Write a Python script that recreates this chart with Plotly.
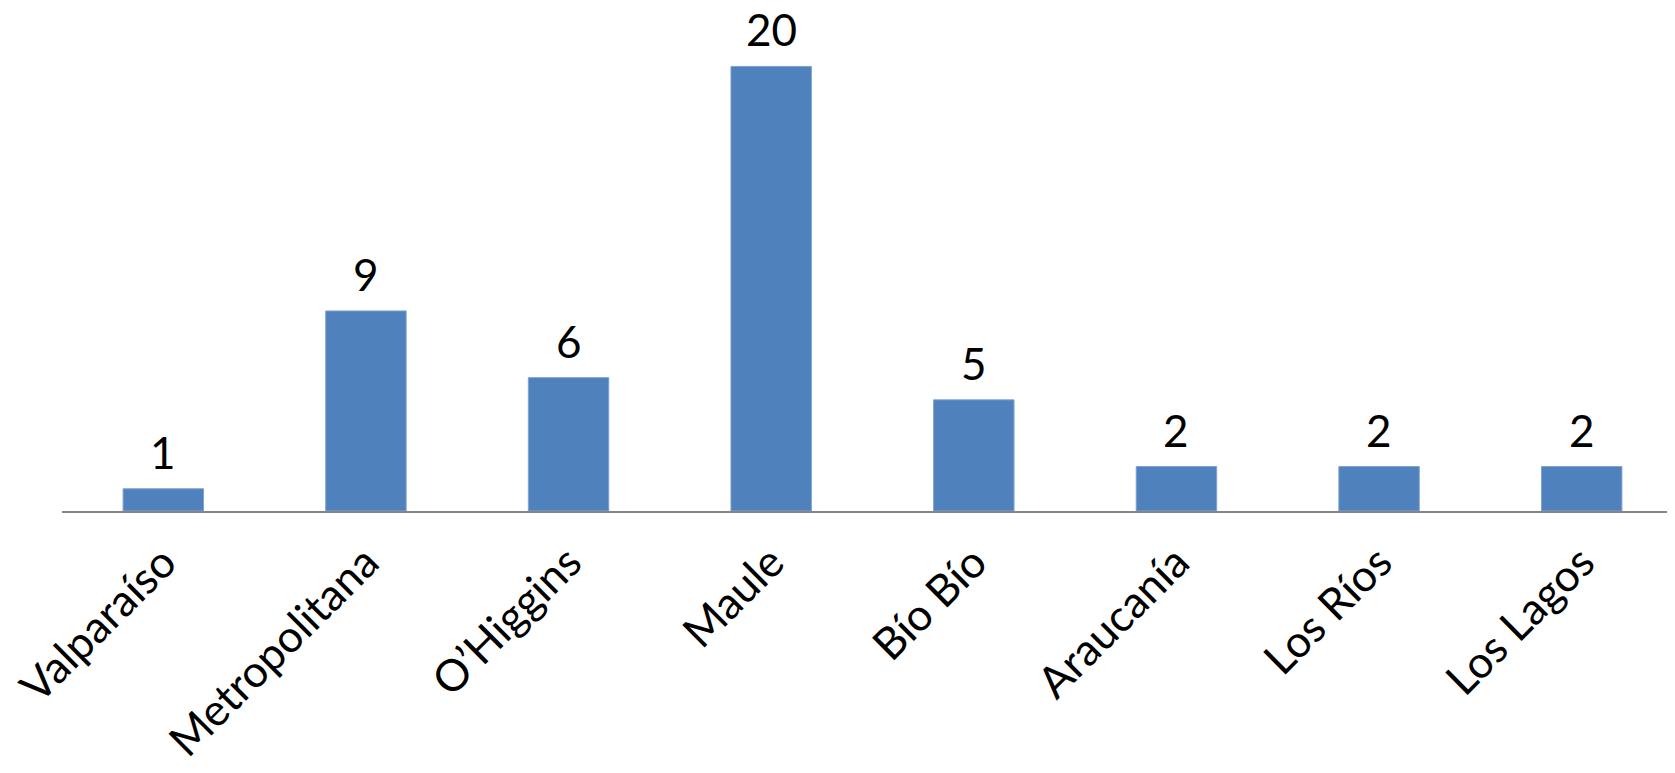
import plotly.graph_objects as go

regions = ["Valparaíso", "Metropolitana", "O’Higgins", "Maule", "Bío Bío", "Araucanía", "Los Ríos", "Los Lagos"]
counts = [1, 9, 6, 20, 5, 2, 2, 2]

FONT = "Lato, Carlito, Calibri, sans-serif"

fig = go.Figure(go.Bar(
    x=regions, y=counts,
    marker=dict(color="#4F81BD", line=dict(color="#7FA2D0", width=1)),
))

for r, c in zip(regions, counts):
    fig.add_annotation(x=r, y=c, text=str(c), showarrow=False, yanchor="bottom",
                       yshift=10, borderpad=0,
                       font=dict(family=FONT, size=44, color="black"))

fig.update_layout(
    width=1675, height=773,
    margin=dict(l=54, r=0, t=14, b=270, autoexpand=False),
    paper_bgcolor="white", plot_bgcolor="white",
    bargap=0.603, showlegend=False,
    font=dict(family=FONT, size=44, color="black"),
    xaxis=dict(showline=True, linecolor="#868686", linewidth=2, ticks="",
               tickangle=-45, tickfont=dict(family=FONT, size=44, color="black"),
               ticklabelstandoff=6, showgrid=False, automargin=False),
    yaxis=dict(range=[0, 22], visible=False, showgrid=False, zeroline=False,
               automargin=False),
)

fig.write_html("out.html")
